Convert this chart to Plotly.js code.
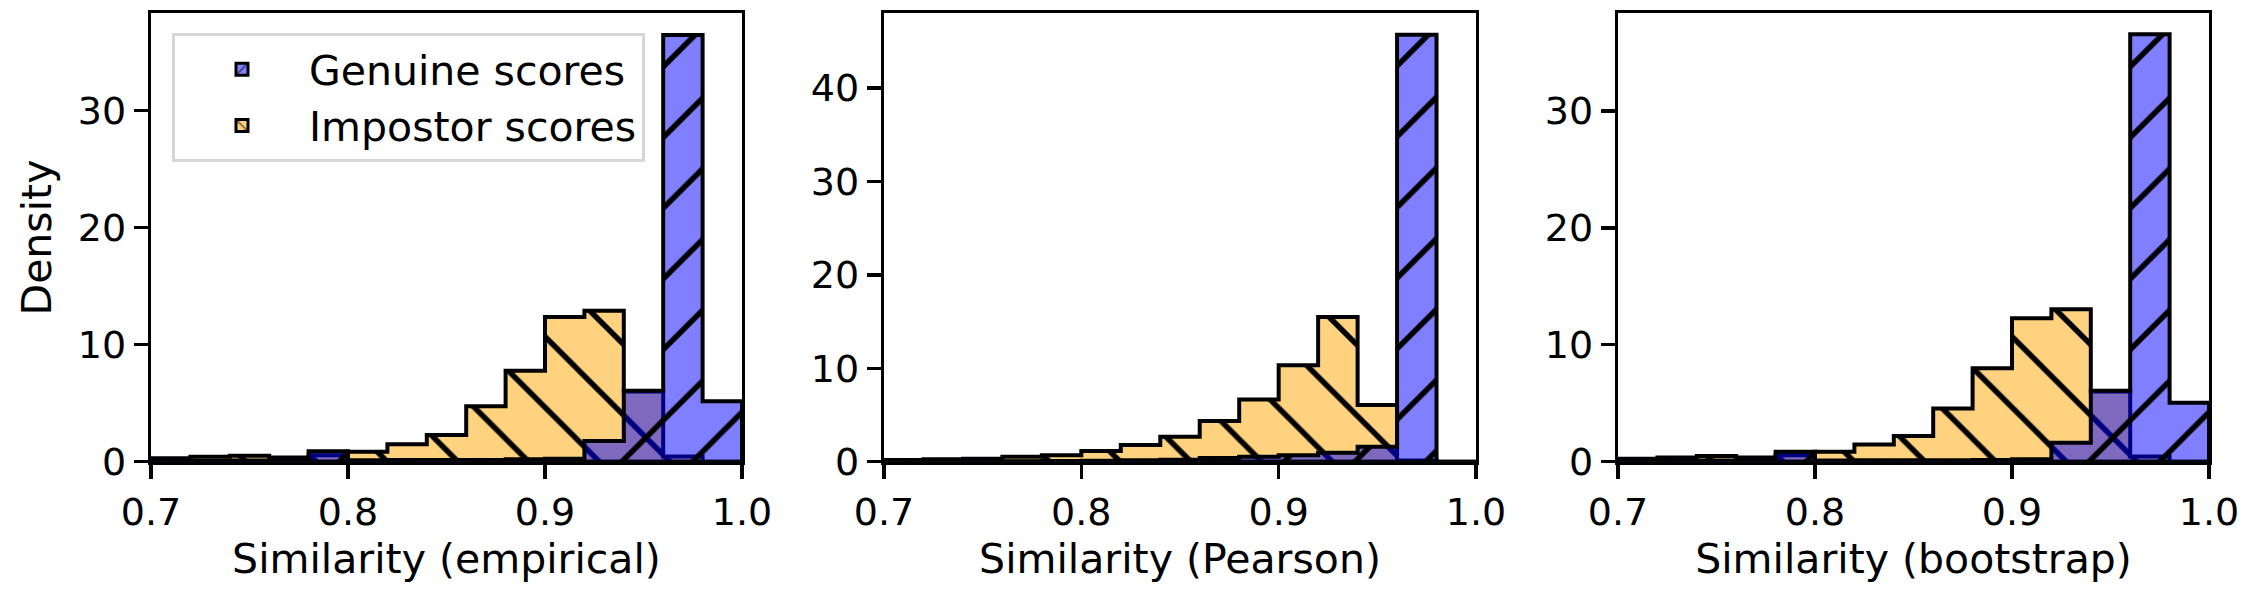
<!DOCTYPE html>
<html>
<head>
<meta charset="utf-8">
<script src="https://cdn.plot.ly/plotly-3.0.1.min.js"></script>
<style>html,body{margin:0;padding:0;background:#fff;}#chart{width:2250px;height:600px;}</style>
</head>
<body>
<div id="chart"></div>
<script>
// Bin edges (similarity), shared by all three panels
const binEdges = [0.70, 0.72, 0.74, 0.76, 0.78, 0.80, 0.82, 0.84, 0.86, 0.88, 0.90, 0.92, 0.94, 0.96, 0.98, 1.00];

// Panel 1: empirical
const empiricalImpostor = [0.30, 0.42, 0.50, 0.35, 0.55, 0.85, 1.48, 2.27, 4.74, 7.76, 12.36, 12.90, 6.00, 0.45, 0.00];
const empiricalGenuine  = [0.05, 0.08, 0.10, 0.12, 0.90, 0.12, 0.15, 0.15, 0.15, 0.20, 0.25, 1.76, 6.05, 36.45, 5.17];

// Panel 2: Pearson
const pearsonImpostor = [0.18, 0.25, 0.32, 0.53, 0.68, 1.14, 1.78, 2.67, 4.35, 6.66, 10.33, 15.50, 6.06, 0.12, 0.00];
const pearsonGenuine  = [0.02, 0.03, 0.05, 0.06, 0.08, 0.10, 0.15, 0.20, 0.39, 0.53, 0.70, 0.96, 1.60, 45.70, 0.00];

// Panel 3: bootstrap
const bootstrapImpostor = [0.25, 0.35, 0.48, 0.35, 0.55, 0.85, 1.48, 2.20, 4.56, 8.00, 12.26, 13.03, 6.00, 0.45, 0.00];
const bootstrapGenuine  = [0.05, 0.08, 0.10, 0.12, 0.85, 0.10, 0.12, 0.12, 0.12, 0.15, 0.20, 1.63, 6.07, 36.55, 5.05];

const xTickVals = [0.7, 0.8, 0.9, 1.0];
const xTickText = ['0.7', '0.8', '0.9', '1.0'];
const xTitles = ['Similarity (empirical)', 'Similarity (Pearson)', 'Similarity (bootstrap)'];
const yTickSets = [[0, 10, 20, 30], [0, 10, 20, 30, 40], [0, 10, 20, 30]];
const yMax = [38.3, 48.0, 38.35];
const seriesNames = ['Genuine scores', 'Impostor scores'];

const BLUE = 'rgba(0,0,255,0.5)';
const ORANGE = 'rgba(255,165,0,0.5)';
const FONT = 'DejaVu Sans, sans-serif';

// Build closed step polygon from bin edges and densities (histtype stepfilled)
function stepPath(edges, vals) {
  const xs = [edges[0]], ys = [0];
  for (let i = 0; i < vals.length; i++) { xs.push(edges[i]); ys.push(vals[i]); }
  const last = edges[edges.length - 1];
  xs.push(last); ys.push(vals[vals.length - 1]);
  xs.push(last); ys.push(0);
  xs.push(edges[0]); ys.push(0);
  return {xs, ys};
}

function histTrace(vals, axisIdx, color, hatch) {
  const p = stepPath(binEdges, vals);
  const sfx = axisIdx === 1 ? '' : String(axisIdx);
  return {
    type: 'scatter', mode: 'lines',
    x: p.xs, y: p.ys,
    xaxis: 'x' + sfx, yaxis: 'y' + sfx,
    line: {shape: 'hv', color: 'black', width: 4},
    fill: 'toself', fillcolor: color,
    fillpattern: {shape: hatch, size: 50, solidity: 0.11, fgcolor: 'black', fgopacity: 1, bgcolor: color, fillmode: 'overlay'},
    showlegend: false, hoverinfo: 'skip'
  };
}

const panels = [
  [empiricalImpostor, empiricalGenuine],
  [pearsonImpostor, pearsonGenuine],
  [bootstrapImpostor, bootstrapGenuine]
];

const data = [];
panels.forEach((pr, i) => {
  data.push(histTrace(pr[0], i + 1, ORANGE, '\\'));
  data.push(histTrace(pr[1], i + 1, BLUE, '/'));
});
// legend entries
data.push({type: 'bar', x: [null], y: [null], name: seriesNames[0],
  marker: {color: BLUE, line: {color: 'black', width: 3}, pattern: {shape: '/', size: 12, solidity: 0.22, fgcolor: 'black', bgcolor: BLUE, fillmode: 'overlay'}}});
data.push({type: 'bar', x: [null], y: [null], name: seriesNames[1],
  marker: {color: ORANGE, line: {color: 'black', width: 3}, pattern: {shape: '\\', size: 12, solidity: 0.22, fgcolor: 'black', bgcolor: ORANGE, fillmode: 'overlay'}}});

const W = 2250, H = 600;
const xDomPx = [[151, 742], [884, 1476], [1618, 2209]];
const yDom = [(H - 461.7) / H, (H - 13.3) / H];

const layout = {
  width: W, height: H,
  margin: {l: 0, r: 0, t: 0, b: 0},
  paper_bgcolor: 'white', plot_bgcolor: 'white',
  font: {family: FONT, color: 'black'},
  showlegend: true,
  legend: {
    x: 172 / W, y: 1 - 33 / H, xanchor: 'left', yanchor: 'top',
    bgcolor: 'white', bordercolor: '#d6d6d6', borderwidth: 3,
    font: {family: FONT, size: 41, color: 'black'},
    traceorder: 'normal', itemwidth: 124
  }
};

for (let i = 0; i < 3; i++) {
  const sfx = i === 0 ? '' : String(i + 1);
  layout['xaxis' + sfx] = {
    domain: [xDomPx[i][0] / W, xDomPx[i][1] / W],
    anchor: 'y' + sfx,
    range: [0.7, 1.0], tickvals: xTickVals, ticktext: xTickText,
    ticks: 'outside', ticklen: 14, tickwidth: 3.3, tickcolor: 'black',
    showline: true, mirror: true, linewidth: 3.3, linecolor: 'black',
    showgrid: false, zeroline: false,
    tickfont: {family: FONT, size: 38, color: 'black'},
    title: {text: xTitles[i], font: {family: FONT, size: 41, color: 'black'}, standoff: 12}
  };
  layout['yaxis' + sfx] = {
    domain: yDom,
    anchor: 'x' + sfx,
    range: [0, yMax[i]], tickvals: yTickSets[i],
    ticks: 'outside', ticklen: 14, tickwidth: 3.3, tickcolor: 'black',
    showline: true, mirror: true, linewidth: 3.3, linecolor: 'black',
    showgrid: false, zeroline: false,
    tickfont: {family: FONT, size: 38, color: 'black'},
    title: i === 0 ? {text: 'Density', font: {family: FONT, size: 41, color: 'black'}, standoff: 14} : {text: ''}
  };
}

Plotly.newPlot('chart', data, layout, {displayModeBar: false, staticPlot: true});
</script>
</body>
</html>
